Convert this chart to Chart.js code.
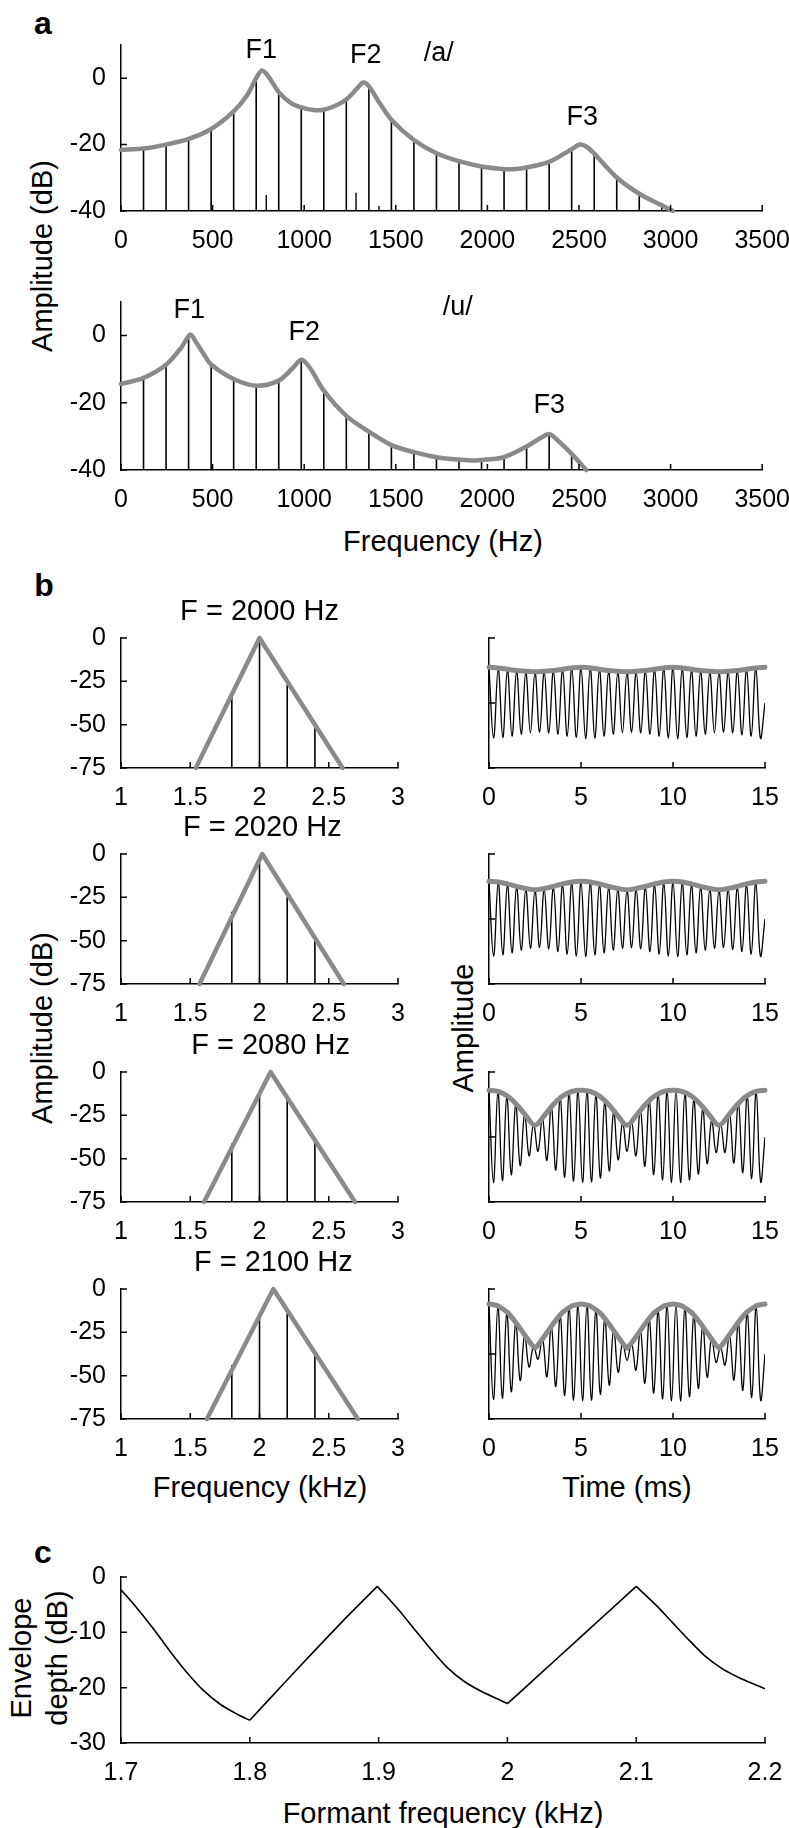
<!DOCTYPE html>
<html>
<head>
<meta charset="utf-8">
<script src="https://cdn.jsdelivr.net/npm/chart.js@4.4.1/dist/chart.umd.min.js"></script>
<style>
  html, body { margin: 0; padding: 0; background: #fff; overflow: hidden; }
  #page { position: relative; width: 789px; height: 1828px; font-family: "Liberation Sans", Arial, sans-serif; color: #000; }
  canvas { position: absolute; }
  .lab { position: absolute; white-space: nowrap; transform: translate(-50%, -50%); font-size: 29px; line-height: 1; }
  .rot { transform: translate(-50%, -50%) rotate(-90deg); }
  .panel { font-weight: bold; font-size: 32px; }
</style>
</head>
<body>
<div id="page">
  <div class="lab panel" style="left:43px;top:23px">a</div>
  <div class="lab panel" style="left:44px;top:585px">b</div>
  <div class="lab panel" style="left:43px;top:1552px">c</div>
  <div class="lab rot" style="left:42px;top:256px">Amplitude (dB)</div>
  <div class="lab" style="left:443px;top:541px">Frequency (Hz)</div>
  <div class="lab rot" style="left:42px;top:1028px">Amplitude (dB)</div>
  <div class="lab rot" style="left:463px;top:1028px">Amplitude</div>
  <div class="lab" style="left:260px;top:1487px">Frequency (kHz)</div>
  <div class="lab" style="left:627px;top:1487px">Time (ms)</div>
  <div class="lab rot" style="left:21px;top:1658px">Envelope</div>
  <div class="lab rot" style="left:57px;top:1658px">depth (dB)</div>
  <div class="lab" style="left:443px;top:1813px">Formant frequency (kHz)</div>
</div>
<script>
// ---- panel a: vowel spectra ----
const harmHz = [123, 246, 369, 492, 615, 738, 861, 984, 1107, 1230, 1353, 1476, 1599, 1722, 1845, 1968, 2091, 2214, 2337, 2460, 2583, 2706, 2829, 2952];
const stemsADb = [-21.2, -20, -18.3, -15.3, -10, 0, -4.2, -8.8, -9.5, -6.4, -2.4, -12.5, -18.6, -22.6, -25, -26.6, -27.4, -26.9, -25.2, -21.4, -22.7, -29.9, -34.8, -38.3];
const marksAHz = [793, 1283, 1408];
const marksADb = [-35.2, -34.5, -38.5];
const envAHz = [0, 123, 246, 369, 492, 615, 690, 738, 770, 805, 861, 930, 984, 1050, 1107, 1170, 1230, 1290, 1322, 1353, 1400, 1476, 1599, 1722, 1845, 1968, 2091, 2140, 2214, 2337, 2420, 2460, 2505, 2545, 2583, 2706, 2829, 2952, 3013];
const envADb = [-21.6, -21.2, -20, -18.3, -15.3, -10, -5, 0, 2.3, 0.5, -4.2, -7.6, -8.8, -9.6, -9.5, -8.3, -6.4, -3, -1.3, -2.4, -6.5, -12.5, -18.6, -22.6, -25, -26.6, -27.4, -27.4, -26.9, -25.2, -22.7, -21.4, -20, -20.8, -22.7, -29.9, -34.8, -38.3, -40];

const stemsUDb = [-12.6, -8.7, 0, -8.6, -12.9, -14.9, -13.4, -7.2, -16.4, -23.9, -28.6, -32.6, -34.7, -36.2, -36.9, -37, -36.2, -33, -29.3, -35.2];
const envUHz = [0, 123, 246, 330, 378, 410, 446, 492, 615, 738, 861, 935, 985, 1030, 1107, 1230, 1353, 1476, 1599, 1722, 1845, 1920, 1968, 2091, 2214, 2290, 2337, 2380, 2460, 2540];
const envUDb = [-14.4, -12.6, -8.7, -3.5, 0.3, -2, -5, -8.6, -12.9, -14.9, -13.4, -9.8, -7.2, -9.5, -16.4, -23.9, -28.6, -32.6, -34.7, -36.2, -36.9, -37.2, -37, -36.2, -33, -30.5, -29.3, -31, -35.2, -40];

const hzTicks = [0, 500, 1000, 1500, 2000, 2500, 3000, 3500];
const dbTicksA = [-40, -20, 0];
const notesA = [['F1', 766, 8.4], ['F2', 1336, 6.8], ['/a/', 1734, 7.4], ['F3', 2518, -11.8]];
const notesU = [['F1', 373, 7.5], ['F2', 1000, 1], ['/u/', 1838, 8.4], ['F3', 2338, -20.9]];

// ---- panel b: spectra and waveforms ----
const formantHz = [2000, 2020, 2080, 2100];
const specStemKHz = [1.8, 2.0, 2.2, 2.4];
const specStemDb = [
  [-31, 0, -27, -52],
  [-33.3, -3.5, -24.8, -49.4],
  [-41.3, -11.1, -15.6, -40.9],
  [-44, -13.8, -13.4, -38.2]
];
const triKHz = [
  [1.54, 2.0, 2.6],
  [1.567, 2.02, 2.609],
  [1.6, 2.08, 2.69],
  [1.62, 2.1, 2.71]
];
const triDb = [-75, 0, -75];
const kHzTicks = [1, 1.5, 2, 2.5, 3];
const dbTicksB = [-75, -50, -25, 0];
const msTicks = [0, 5, 10, 15];
const ampTicks = [-1, 0, 1];

const waveHalfStep = [0.25, 0.25, 0.242, 0.242];
const wavePeaks1 = [0.54, 0.53, 0.51, 0.49, 0.47, 0.47, 0.48, 0.50, 0.52, 0.54, 0.55, 0.54, 0.52, 0.49, 0.47, 0.47, 0.48, 0.50, 0.52, 0.54, 0.55, 0.54, 0.51, 0.49, 0.47, 0.47, 0.48, 0.50, 0.52, 0.54];
const waveTroughs1 = [-0.54, -0.53, -0.51, -0.48, -0.46, -0.45, -0.46, -0.48, -0.51, -0.53, -0.55, -0.54, -0.51, -0.48, -0.46, -0.45, -0.46, -0.48, -0.51, -0.54, -0.55, -0.53, -0.51, -0.48, -0.46, -0.45, -0.46, -0.49, -0.51, -0.54];
const wavePeaks2 = [0.57, 0.56, 0.53, 0.49, 0.46, 0.44, 0.46, 0.49, 0.53, 0.56, 0.57, 0.56, 0.53, 0.49, 0.46, 0.44, 0.46, 0.49, 0.53, 0.56, 0.57, 0.56, 0.53, 0.49, 0.46, 0.44, 0.46, 0.49, 0.53, 0.56];
const waveTroughs2 = [-0.57, -0.55, -0.52, -0.48, -0.45, -0.44, -0.46, -0.50, -0.54, -0.57, -0.58, -0.55, -0.52, -0.48, -0.45, -0.44, -0.46, -0.50, -0.54, -0.57, -0.58, -0.55, -0.52, -0.48, -0.45, -0.44, -0.47, -0.50, -0.54, -0.57];
const wavePeaks3 = [0.72, 0.70, 0.63, 0.51, 0.35, 0.20, 0.29, 0.48, 0.61, 0.68, 0.72, 0.71, 0.66, 0.55, 0.39, 0.22, 0.25, 0.43, 0.58, 0.67, 0.71, 0.72, 0.68, 0.59, 0.44, 0.26, 0.21, 0.38, 0.54, 0.65, 0.70];
const waveTroughs3 = [-0.70, -0.67, -0.58, -0.44, -0.29, -0.22, -0.36, -0.51, -0.62, -0.68, -0.70, -0.69, -0.63, -0.52, -0.35, -0.22, -0.29, -0.45, -0.58, -0.66, -0.70, -0.70, -0.66, -0.57, -0.41, -0.24, -0.24, -0.40, -0.55, -0.64, -0.69];
const wavePeaks4 = [0.77, 0.74, 0.64, 0.49, 0.29, 0.12, 0.24, 0.43, 0.60, 0.72, 0.77, 0.76, 0.69, 0.56, 0.39, 0.18, 0.17, 0.37, 0.54, 0.68, 0.76, 0.77, 0.72, 0.61, 0.45, 0.25, 0.10, 0.30, 0.49, 0.65, 0.74];
const waveTroughs4 = [-0.70, -0.68, -0.58, -0.41, -0.20, -0.08, -0.35, -0.50, -0.64, -0.71, -0.72, -0.71, -0.62, -0.48, -0.28, -0.10, -0.25, -0.45, -0.60, -0.69, -0.72, -0.72, -0.66, -0.53, -0.36, -0.13, -0.17, -0.40, -0.56, -0.67, -0.71];
const waveEndValue = [0, 0, 0, 0];

const envTimes = [0, 0.5, 1, 1.5, 2, 2.5, 3, 3.5, 4, 4.5, 5, 5.5, 6, 6.5, 7, 7.5, 8, 8.5, 9, 9.5, 10, 10.5, 11, 11.5, 12, 12.5, 13, 13.5, 14, 14.5, 15];
const envWave1 = [0.55, 0.54, 0.52, 0.50, 0.49, 0.48, 0.49, 0.50, 0.52, 0.54, 0.55, 0.54, 0.52, 0.50, 0.49, 0.48, 0.49, 0.50, 0.52, 0.54, 0.55, 0.54, 0.52, 0.50, 0.49, 0.48, 0.49, 0.50, 0.52, 0.54, 0.55];
const envWave2 = [0.58, 0.57, 0.54, 0.50, 0.47, 0.45, 0.47, 0.50, 0.54, 0.57, 0.58, 0.57, 0.54, 0.50, 0.47, 0.45, 0.47, 0.50, 0.54, 0.57, 0.58, 0.57, 0.54, 0.50, 0.47, 0.45, 0.47, 0.50, 0.54, 0.57, 0.58];
const envWave3 = [0.72, 0.70, 0.63, 0.50, 0.33, 0.18, 0.33, 0.50, 0.63, 0.70, 0.72, 0.70, 0.63, 0.50, 0.33, 0.18, 0.33, 0.50, 0.63, 0.70, 0.72, 0.70, 0.63, 0.50, 0.33, 0.18, 0.33, 0.50, 0.63, 0.70, 0.72];
const envWave4 = [0.77, 0.74, 0.64, 0.47, 0.27, 0.09, 0.27, 0.47, 0.64, 0.74, 0.77, 0.74, 0.64, 0.47, 0.27, 0.09, 0.27, 0.47, 0.64, 0.74, 0.77, 0.74, 0.64, 0.47, 0.27, 0.09, 0.27, 0.47, 0.64, 0.74, 0.77];

// ---- panel c: envelope depth ----
const depthKHz = [1.7, 1.712, 1.725, 1.738, 1.751, 1.764, 1.777, 1.791, 1.8,
  1.825, 1.85, 1.875, 1.899,
  1.914, 1.927, 1.94, 1.953, 1.966, 1.98, 1.993, 2.0,
  2.025, 2.05, 2.075, 2.1,
  2.115, 2.128, 2.141, 2.154, 2.167, 2.18, 2.193, 2.2];
const depthDb = [-2.3, -5.5, -9.3, -13.4, -17.2, -20.5, -23.0, -24.9, -25.9,
  -19.6, -13.4, -7.3, -1.7,
  -5.5, -9.2, -12.9, -16.3, -18.8, -20.7, -22.1, -22.9,
  -17.6, -12.3, -7.0, -1.7,
  -5.0, -8.2, -11.4, -14.4, -16.6, -18.2, -19.5, -20.2];
const depthTurns = [0, 8, 12, 20, 24, 32];   // indices of the sharp dips/peaks
const depthKHzTicks = [1.7, 1.8, 1.9, 2, 2.1, 2.2];
const depthDbTicks = [-30, -20, -10, 0];

// ---------------------------------------------------------------
const FONT = '"Liberation Sans", Arial, sans-serif';
const GREY = '#8a8a8a';
const PAD = { l: 100, t: 50, r: 40, b: 50 };
Chart.defaults.font.family = FONT;
Chart.defaults.color = '#000';
Chart.defaults.animation = false;

// inward tick marks, MATLAB style
const inTicks = {
  id: 'inTicks',
  afterDatasetsDraw(chart) {
    const { ctx, chartArea: a, scales: { x, y } } = chart;
    ctx.save();
    ctx.strokeStyle = '#000';
    ctx.lineWidth = 1.5;
    ctx.beginPath();
    x.ticks.forEach(t => { const p = x.getPixelForValue(t.value); ctx.moveTo(p, a.bottom); ctx.lineTo(p, a.bottom - 6); });
    y.ticks.forEach(t => { const p = y.getPixelForValue(t.value); ctx.moveTo(a.left, p); ctx.lineTo(a.left + 6, p); });
    ctx.stroke();
    ctx.restore();
  }
};

// text placed in data coordinates
const notes = {
  id: 'notes',
  afterDatasetsDraw(chart, args, opts) {
    if (!opts.items) return;
    const { ctx, scales: { x, y } } = chart;
    ctx.save();
    ctx.font = (opts.size || 27) + 'px ' + FONT;
    ctx.fillStyle = '#000';
    ctx.textAlign = 'center';
    ctx.textBaseline = 'middle';
    opts.items.forEach(([text, vx, vy]) => ctx.fillText(text, x.getPixelForValue(vx), y.getPixelForValue(vy)));
    ctx.restore();
  }
};
Chart.register(inTicks, notes);

const page = document.getElementById('page');

function place(box) {
  const c = document.createElement('canvas');
  const w = Math.round(box.r - box.l + PAD.l + PAD.r);
  const h = Math.round(box.b - box.t + PAD.t + PAD.b);
  c.width = w; c.height = h;
  c.style.width = w + 'px'; c.style.height = h + 'px';
  c.style.left = (box.l - PAD.l) + 'px';
  c.style.top = (box.t - PAD.t) + 'px';
  page.appendChild(c);
  return c;
}

function axis(dir, min, max, ticks, showLabels) {
  return {
    type: 'linear', min, max, offset: false,
    grid: { display: false, drawTicks: false, offset: false },
    border: { display: true, color: '#000', width: 1.5 },
    afterBuildTicks: s => { s.ticks = ticks.map(v => ({ value: v })); },
    afterFit: s => { if (dir === 'x') s.height = PAD.b; else s.width = PAD.l; },
    ticks: {
      display: showLabels !== false,
      font: { size: 25 }, color: '#000',
      padding: 15,
      maxRotation: 0, autoSkip: false,
      callback: v => String(v)
    }
  };
}

function pts(xs, ys) { return xs.map((v, i) => ({ x: v, y: ys[i] })); }
function stems(xs, ys, base) { return xs.map((v, i) => ({ x: v, y: [base, ys[i]] })); }

function greyLine(data, tension, width) {
  return { type: 'line', data, borderColor: GREY, borderWidth: width || 4.5, pointRadius: 0, tension, clip: false, borderCapStyle: 'round', borderJoinStyle: 'round' };
}
function stemBars(data, thick) {
  return { type: 'bar', data, backgroundColor: '#000', barThickness: thick || 1.6, grouped: false, inflateAmount: 0, borderWidth: 0 };
}

function makeChart(box, datasets, xAx, yAx, items, size) {
  return new Chart(place(box), {
    type: 'line',
    data: { datasets },
    options: {
      responsive: false, animation: false, events: [],
      layout: { padding: { left: 0, top: PAD.t, right: PAD.r, bottom: 0 } },
      plugins: { legend: { display: false }, tooltip: { enabled: false }, notes: { items, size } },
      scales: { x: xAx, y: yAx }
    }
  });
}

// panel a, /a/
makeChart({ l: 121, t: 44.5, r: 765, b: 210.5 },
  [greyLine(pts(envAHz, envADb), 0.3), stemBars(stems(harmHz, stemsADb, -40)), stemBars(stems(marksAHz, marksADb, -40), 1.4)],
  axis('x', 0, 3500, hzTicks), axis('y', -40, 10, dbTicksA), notesA, 27);

// panel a, /u/
makeChart({ l: 121, t: 301.5, r: 765, b: 469 },
  [greyLine(pts(envUHz, envUDb), 0.3), stemBars(stems(harmHz.slice(0, stemsUDb.length), stemsUDb, -40))],
  axis('x', 0, 3500, hzTicks), axis('y', -40, 10, dbTicksA), notesU, 27);

// panel b rows
const rowTops = [638, 854, 1072, 1289];
const rowHeight = 129.5;
const wavePeaks = [wavePeaks1, wavePeaks2, wavePeaks3, wavePeaks4];
const waveTroughs = [waveTroughs1, waveTroughs2, waveTroughs3, waveTroughs4];
const envWaves = [envWave1, envWave2, envWave3, envWave4];

formantHz.forEach((f, r) => {
  const t = rowTops[r], b = t + rowHeight;
  makeChart({ l: 121, t, r: 398, b },
    [greyLine(pts(triKHz[r], triDb), 0, 4.5), stemBars(stems(specStemKHz, specStemDb[r], -75))],
    axis('x', 1, 3, kHzTicks), axis('y', -75, 0, dbTicksB),
    [['F = ' + f + ' Hz', f / 1000, 15]], 29);

  // carrier: alternate peak / trough samples, half a cycle apart
  const h = waveHalfStep[r];
  const wave = [];
  wavePeaks[r].forEach((p, i) => {
    wave.push({ x: 2 * i * h, y: p });
    if (i < waveTroughs[r].length) wave.push({ x: (2 * i + 1) * h, y: waveTroughs[r][i] });
  });
  wave.push({ x: 15, y: waveEndValue[r] });

  makeChart({ l: 489, t, r: 765, b },
    [greyLine(pts(envTimes, envWaves[r]), r === 3 ? 0.15 : 0.35, 5),
     { type: 'line', data: wave, borderColor: '#000', borderWidth: 1.3, pointRadius: 0, tension: 0.4 }],
    axis('x', 0, 15, msTicks), axis('y', -1, 1, ampTicks, false), null);
});

// panel c: one smooth piece between each pair of turning points, so the turns stay sharp
const depthPieces = depthTurns.slice(1).map((end, k) => ({
  type: 'line',
  data: pts(depthKHz.slice(depthTurns[k], end + 1), depthDb.slice(depthTurns[k], end + 1)),
  borderColor: '#000', borderWidth: 1.6, pointRadius: 0, tension: 0.3
}));
makeChart({ l: 121, t: 1576.5, r: 765, b: 1742 },
  depthPieces, axis('x', 1.7, 2.2, depthKHzTicks), axis('y', -30, 0, depthDbTicks), null);
</script>
</body>
</html>
